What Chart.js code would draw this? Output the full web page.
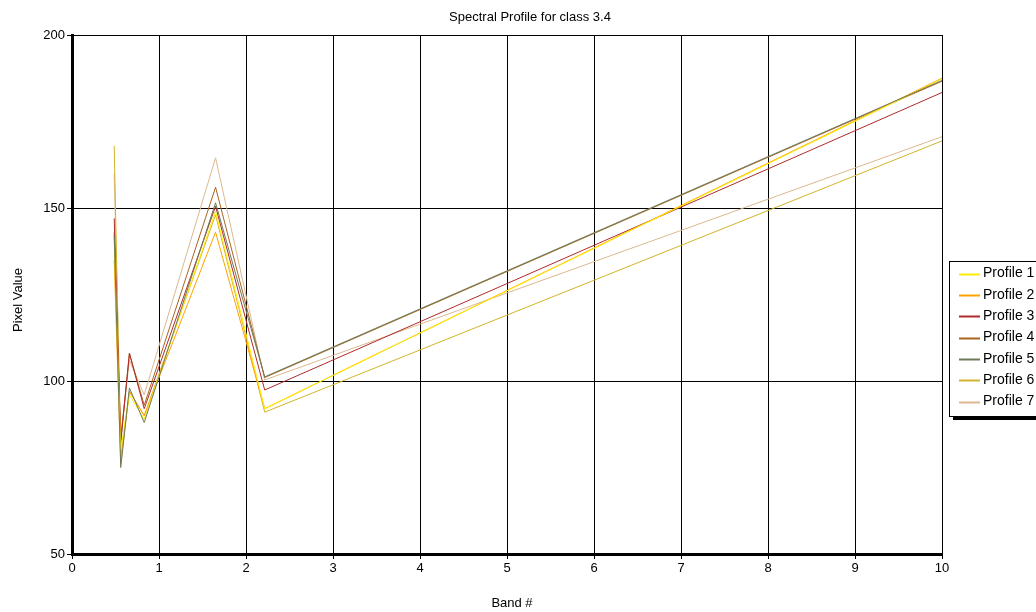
<!DOCTYPE html>
<html>
<head>
<meta charset="utf-8">
<script src="https://cdn.jsdelivr.net/npm/chart.js@4"></script>
<style>
  html, body { margin: 0; padding: 0; background: #fff; }
  #wrap { width: 1036px; height: 612px; position: relative; }
</style>
</head>
<body>
<div id="wrap"><canvas id="chart"></canvas></div>
<script>
// band centre wavelengths (sorted by x), last one is thermal and falls off the axis
const bands = [0.485, 0.56, 0.66, 0.83, 1.65, 2.215, 11.45];

const profile1 = [140, 80, 96, 89, 149, 92, 205];
const profile2 = [135, 76, 97, 90, 143, 92, 205.3];
const profile3 = [147, 82, 108, 92, 150.5, 97.4, 199.4];
const profile4 = [143, 83, 108, 93, 156, 101, 202.6];
const profile5 = [142, 75, 98, 88, 151.5, 101.2, 202.8];
const profile6 = [168, 78, 97, 90, 148, 91, 184];
const profile7 = [160, 84, 106, 96, 164.5, 100.3, 183.7];

const names = ['Profile 1', 'Profile 2', 'Profile 3', 'Profile 4', 'Profile 5', 'Profile 6', 'Profile 7'];
const colors = ['#ffee00', '#ffa200', '#b02a2a', '#a8651e', '#6e7a58', '#d2b42a', '#dcb890'];
const series = [profile1, profile2, profile3, profile4, profile5, profile6, profile7];

const xTicks = [0, 1, 2, 3, 4, 5, 6, 7, 8, 9, 10];
const yTicks = [50, 100, 150, 200];

const FONT = '"Liberation Sans", Arial, sans-serif';

const datasets = series.map((vals, i) => ({
  label: names[i],
  data: vals.map((v, j) => ({ x: bands[j], y: v })),
  borderColor: colors[i],
  backgroundColor: colors[i],
  borderWidth: 1,
  pointRadius: 0,
  tension: 0,
  order: i === 4 ? -1 : 0   // olive line sits on top, as in the original
}));

// title, axis titles and the boxed legend
const decor = {
  id: 'decor',
  afterDraw(chart) {
    const ctx = chart.ctx;
    ctx.save();
    ctx.fillStyle = '#000';
    ctx.font = '13px ' + FONT;
    ctx.textAlign = 'center';
    ctx.textBaseline = 'middle';
    ctx.fillText('Spectral Profile for class 3.4', 530, 17);
    ctx.fillText('Band #', 512, 603);
    ctx.translate(18, 300);
    ctx.rotate(-Math.PI / 2);
    ctx.fillText('Pixel Value', 0, 0);
    ctx.restore();

    // legend
    ctx.save();
    const lx = 949, ly = 261, lw = 100, lh = 155;
    ctx.fillStyle = '#000';
    ctx.fillRect(lx + 4, ly + 4, lw, lh);
    ctx.fillStyle = '#fff';
    ctx.fillRect(lx, ly, lw, lh);
    ctx.strokeStyle = '#000';
    ctx.lineWidth = 1;
    ctx.strokeRect(lx + 0.5, ly + 0.5, lw, lh);
    ctx.font = '14px ' + FONT;
    ctx.textAlign = 'left';
    ctx.textBaseline = 'middle';
    chart.data.datasets.forEach((ds, i) => {
      const y = 273.5 + i * 21.35;
      ctx.strokeStyle = ds.borderColor;
      ctx.lineWidth = 2;
      ctx.beginPath();
      ctx.moveTo(959, Math.round(y) + 0.5);
      ctx.lineTo(980, Math.round(y) + 0.5);
      ctx.stroke();
      ctx.fillStyle = '#000';
      ctx.fillText(ds.label, 983, y);
    });
    ctx.restore();
  }
};

new Chart(document.getElementById('chart'), {
  type: 'line',
  data: { datasets: datasets },
  plugins: [decor],
  options: {
    responsive: true,
    maintainAspectRatio: false,
    animation: false,
    layout: { padding: { left: 0, top: 35, right: 94, bottom: 0 } },
    plugins: {
      legend: { display: false },
      title: { display: false },
      tooltip: { enabled: false }
    },
    scales: {
      x: {
        type: 'linear',
        min: 0,
        max: 10,
        afterBuildTicks: s => { s.ticks = xTicks.map(v => ({ value: v })); },
        afterFit: s => { s.height = 612 - 554; },
        ticks: { color: '#000', font: { family: FONT, size: 13 }, padding: 2, maxRotation: 0 },
        grid: { color: '#000', lineWidth: 1, tickLength: 5 },
        border: { color: '#000', width: 3 }
      },
      y: {
        min: 50,
        max: 200,
        afterBuildTicks: s => { s.ticks = yTicks.map(v => ({ value: v })); },
        afterFit: s => { s.width = 72; },
        ticks: { color: '#000', font: { family: FONT, size: 13 }, padding: 2 },
        grid: { color: '#000', lineWidth: 1, tickLength: 5 },
        border: { color: '#000', width: 3 }
      }
    }
  }
});
</script>
</body>
</html>
